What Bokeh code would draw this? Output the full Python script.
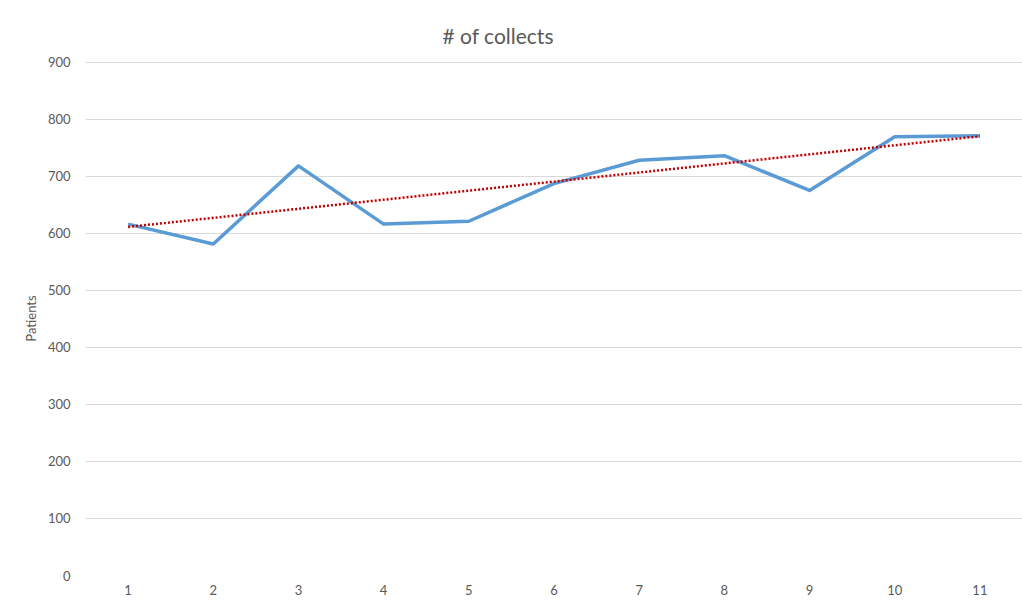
from bokeh.plotting import figure
from bokeh.models import Title, Range1d, FixedTicker
from bokeh.embed import file_html
from bokeh.resources import INLINE

# Data
periods = [1, 2, 3, 4, 5, 6, 7, 8, 9, 10, 11]
collects = [616, 581, 718, 616, 621, 687, 728, 736, 675, 769, 771]
trend_x = [1, 11]
trend_y = [611, 770]
y_ticks = [0, 100, 200, 300, 400, 500, 600, 700, 800, 900]

FONT = "Lato"
GREY_TXT = "#595959"

p = figure(width=1022, height=608, output_backend="svg", toolbar_location=None,
           x_range=Range1d(0.5, 11.5), y_range=Range1d(0, 901),
           min_border_left=85, min_border_right=0, min_border_top=61, min_border_bottom=33)
p.outline_line_color = None
p.background_fill_color = "white"
p.border_fill_color = "white"

t = Title(text="# of collects", align="left", offset=357, text_font=FONT,
          text_font_size="21px", text_font_style="normal", text_color=GREY_TXT,
          standoff=28)
p.add_layout(t, "above")

p.line(periods, collects, line_color="#5B9BD5", line_width=3.5, line_join="round")
p.line(trend_x, trend_y, line_color="#C00000", line_width=2.5, line_dash="2 2")

p.xgrid.grid_line_color = None
p.ygrid.grid_line_color = "#D9D9D9"
p.ygrid.grid_line_width = 1
p.yaxis.ticker = FixedTicker(ticks=y_ticks)
p.xaxis.ticker = FixedTicker(ticks=periods)

for ax in (p.xaxis, p.yaxis):
    ax.axis_line_color = None
    ax.major_tick_line_color = None
    ax.minor_tick_line_color = None
    ax.major_tick_out = 0
    ax.major_tick_in = 0
    ax.major_label_text_font = FONT
    ax.major_label_text_font_size = "13px"
    ax.major_label_text_color = GREY_TXT

p.yaxis.major_label_standoff = 15
p.xaxis.major_label_standoff = 9
p.yaxis.axis_label = "Patients"
p.yaxis.axis_label_text_font = FONT
p.yaxis.axis_label_text_font_size = "13px"
p.yaxis.axis_label_text_font_style = "normal"
p.yaxis.axis_label_text_color = GREY_TXT
p.yaxis.axis_label_standoff = 6

open("out.html", "w").write(file_html(p, INLINE))
